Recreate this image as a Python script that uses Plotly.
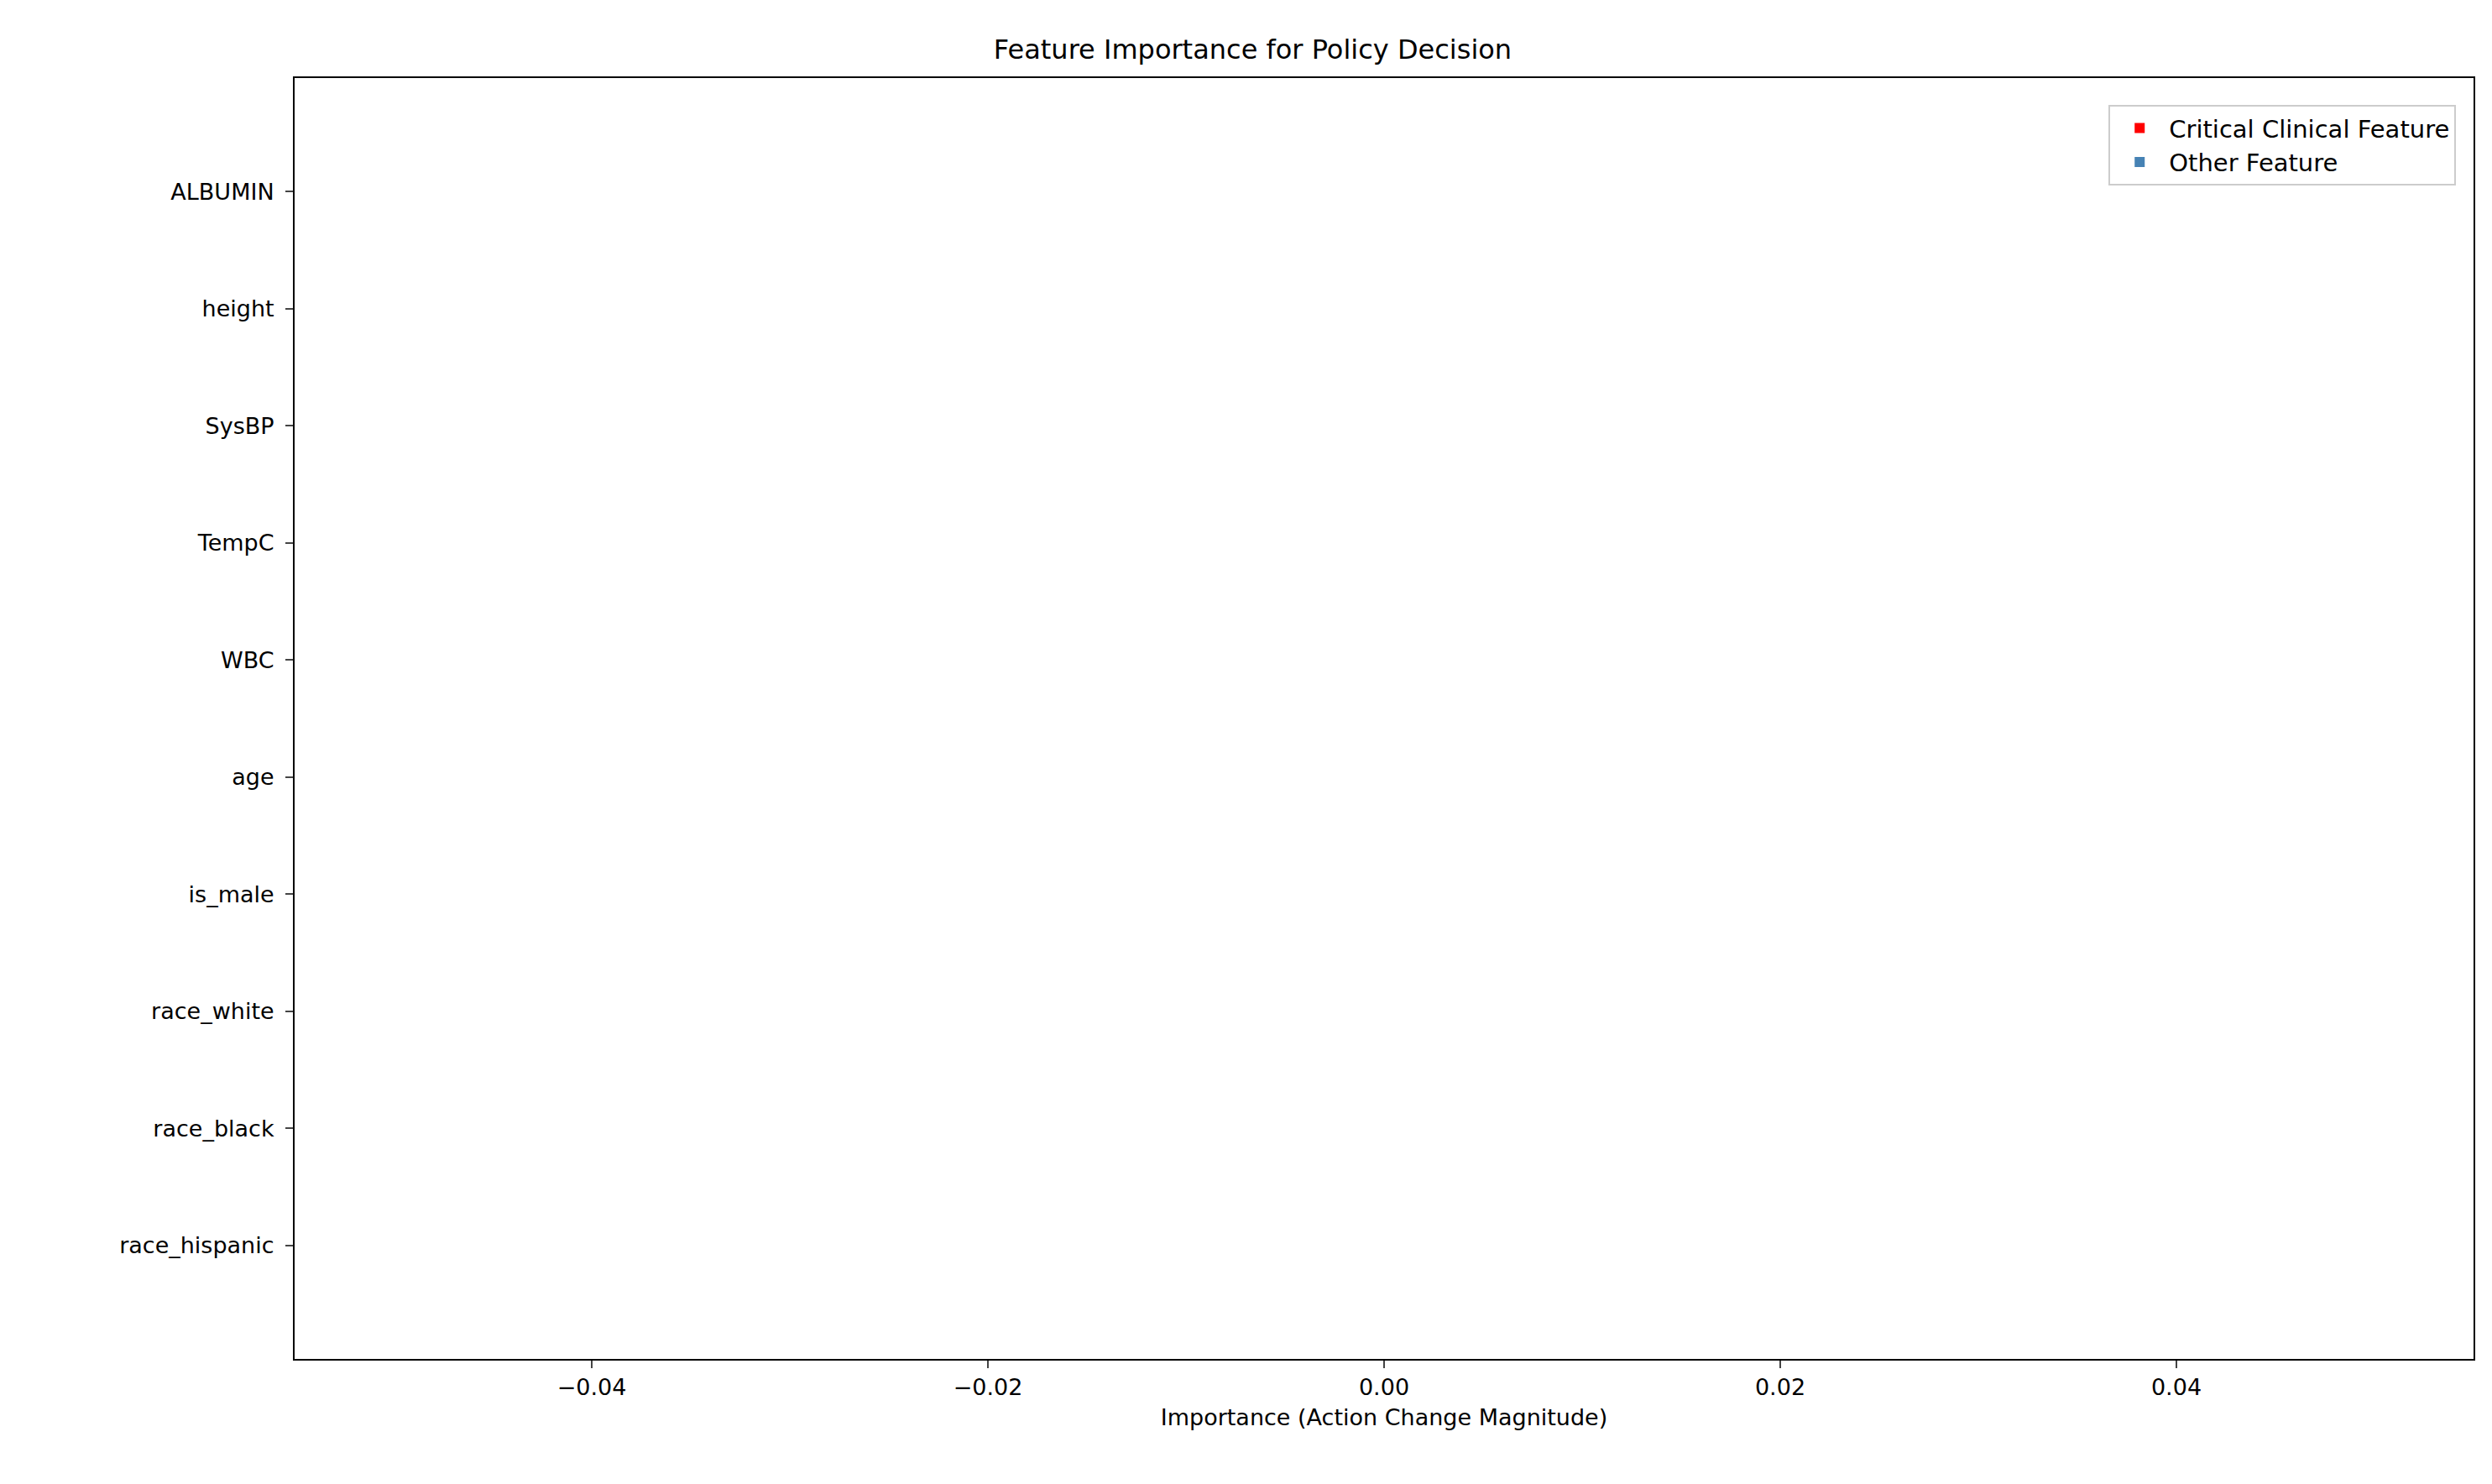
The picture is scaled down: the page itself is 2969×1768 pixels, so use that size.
import plotly.graph_objects as go

features = ["race_hispanic", "race_black", "race_white", "is_male", "age",
            "WBC", "TempC", "SysBP", "height", "ALBUMIN"]
importance = [0, 0, 0, 0, 0, 0, 0, 0, 0, 0]
critical = ["ALBUMIN", "SysBP", "TempC", "WBC"]

crit_y = [f for f in features if f in critical]
crit_x = [v for f, v in zip(features, importance) if f in critical]
other_y = [f for f in features if f not in critical]
other_x = [v for f, v in zip(features, importance) if f not in critical]

fig = go.Figure()
fig.add_trace(go.Bar(x=crit_x, y=crit_y, orientation="h", marker_color="red",
                     marker_line_width=0, name="Critical Clinical Feature", width=0.8))
fig.add_trace(go.Bar(x=other_x, y=other_y, orientation="h", marker_color="steelblue",
                     marker_line_width=0, name="Other Feature", width=0.8))

font = dict(family="DejaVu Sans", size=27, color="black")
fig.update_layout(
    width=2969, height=1768, plot_bgcolor="white", paper_bgcolor="white",
    font=font, margin=dict(l=343, r=30, t=85, b=157),
    title=dict(text="Feature Importance for Policy Decision", x=0.5, xanchor="center",
               y=1 - 51 / 1768, yanchor="middle", font=dict(family="DejaVu Sans", size=32)),
    xaxis=dict(range=[-0.055, 0.055], tickvals=[-0.04, -0.02, 0, 0.02, 0.04],
               ticktext=["\u22120.04", "\u22120.02", "0.00", "0.02", "0.04"],
               showgrid=False, zeroline=False, showline=True, linecolor="black", linewidth=2,
               mirror=True, ticks="outside", ticklen=9, tickwidth=2,
               title=dict(text="Importance (Action Change Magnitude)", standoff=12,
                          font=dict(size=27))),
    yaxis=dict(categoryorder="array", categoryarray=features, range=[-0.97, 9.97],
               showgrid=False, zeroline=False, showline=True, linecolor="black", linewidth=2,
               mirror=True, ticks="outside", ticklen=9, tickwidth=2, ticklabelstandoff=8),
    legend=dict(x=0.992, y=0.979, xanchor="right", yanchor="top", bgcolor="white",
                bordercolor="#cccccc", borderwidth=2, traceorder="normal",
                font=dict(size=29), itemwidth=60),
    barmode="overlay",
)
fig.write_html("out.html")
